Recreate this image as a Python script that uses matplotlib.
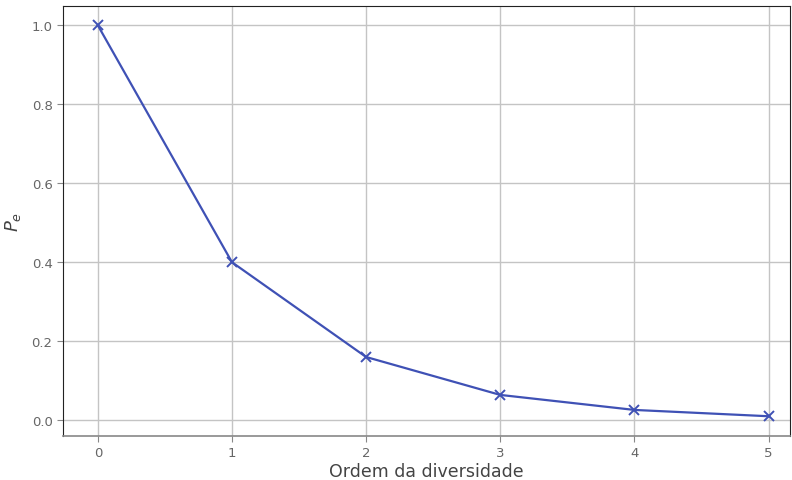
import matplotlib

matplotlib.use("Agg")
import matplotlib.pyplot as plt

# probabilidade de erro vs ordem da diversidade
ordem = [0, 1, 2, 3, 4, 5]
pe = [1.0, 0.4, 0.16, 0.064, 0.026, 0.010]

LINE = "#3f51b5"
TICK = "#666666"

fig = plt.figure(figsize=(7.92, 4.81), dpi=100)
ax = fig.add_axes([0.0795, 0.0915, 0.918, 0.894])

ax.plot(ordem, pe, color=LINE, marker="x", markersize=7, linewidth=1.6,
        markeredgewidth=1.4)

ax.set_xlim(-0.26, 5.16)
ax.set_ylim(-0.04, 1.049)
ax.set_xticks(ordem)
ax.set_yticks([0.0, 0.2, 0.4, 0.6, 0.8, 1.0])
ax.grid(True, color="#c4c4c4", linewidth=1)
ax.set_axisbelow(True)

ax.tick_params(colors="#888888", labelcolor=TICK, labelsize=9.5, length=4)
for side in ("left", "top", "right"):
    ax.spines[side].set_color("#222222")
ax.spines["bottom"].set_color("#888888")
ax.spines["bottom"].set_linewidth(1.2)

ax.set_xlabel("Ordem da diversidade", fontsize=12.5, color="#444444", labelpad=2)
ax.set_ylabel("$P_e$", fontsize=13, color="#444444", labelpad=6)

fig.savefig("out.png", dpi=100)
